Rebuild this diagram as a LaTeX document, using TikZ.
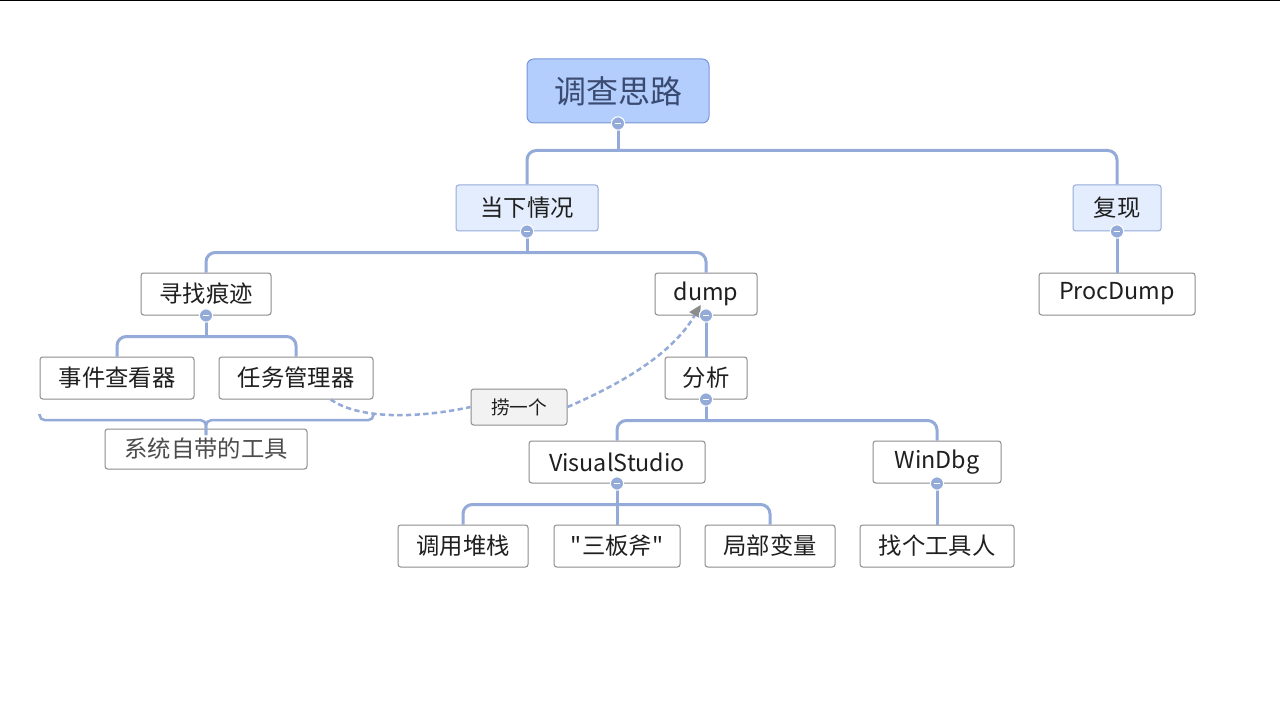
\documentclass[tikz,border=0pt]{standalone}
\usepackage{fontspec}
\setmainfont[Mapping=]{Noto Sans CJK SC}
\usetikzlibrary{arrows.meta, positioning, calc}
\definecolor{linkblue}{HTML}{94AAD8}
\definecolor{rootfill}{HTML}{B3CEFD}
\definecolor{rootdraw}{HTML}{7895D8}
\definecolor{roottext}{HTML}{3A4A70}
\definecolor{subfill}{HTML}{E3EDFD}
\tikzset{
  topic/.style={draw=black!45, fill=white, rounded corners=2pt, line width=0.75pt,
    minimum height=31.5pt, inner sep=0pt, font=\fontsize{17.5}{19}\selectfont, text=black!88},
  maintopic/.style={topic, draw=linkblue, fill=subfill, minimum height=34.5pt},
  roottopic/.style={topic, draw=rootdraw, fill=rootfill, minimum height=48pt,
    rounded corners=5pt, font=\fontsize{24}{26}\selectfont, text=roottext},
  branch/.style={draw=linkblue, line width=2.25pt, rounded corners=7pt},
  link/.style={draw=linkblue, line width=1.9pt, dash pattern=on 4pt off 2.5pt},
  fold/.style={circle, fill=linkblue, draw=white, line width=0.8pt, minimum size=10pt, inner sep=0pt,
    path picture={\draw[white, line width=1.2pt] ([xshift=-2.5pt]path picture bounding box.center) -- ([xshift=2.5pt]path picture bounding box.center);}},
}
\begin{document}
\begin{tikzpicture}[x=0.75pt, y=-0.75pt]
  \useasboundingbox (0,0) rectangle (1280,720);
  \draw[black, line width=1pt] (0,0.5) -- (1280,0.5);
  % topics
  \node[roottopic, minimum width=136.5pt] (root) at (618,91) {调查思路};
  \node[maintopic, minimum width=106.5pt] (now) at (527,208) {当下情况};
  \node[maintopic, minimum width=66pt] (repro) at (1117,208) {复现};
  \node[topic, minimum width=97.5pt] (trace) at (206,294) {寻找痕迹};
  \node[topic, minimum width=76.5pt] (dump) at (706,294) {dump};
  \node[topic, minimum width=117pt] (procdump) at (1117,294) {ProcDump};
  \node[topic, minimum width=115.5pt] (event) at (117,378) {事件查看器};
  \node[topic, minimum width=115.5pt] (taskmgr) at (296,378) {任务管理器};
  \node[topic, minimum width=61.5pt] (analyze) at (706,378) {分析};
  \node[topic, minimum width=151.5pt, minimum height=30pt, text=black!70] (systools) at (206,449) {系统自带的工具};
  \node[topic, fill=black!5, minimum width=72pt, minimum height=27pt, font=\fontsize{14}{16}\selectfont] (grab) at (519,407) {捞一个};
  \node[topic, minimum width=132pt] (vs) at (617,462) {VisualStudio};
  \node[topic, minimum width=96pt] (windbg) at (937,462) {WinDbg};
  \node[topic, minimum width=97.5pt] (stack) at (463,546) {调用堆栈};
  \node[topic, minimum width=94.5pt] (axes) at (617,546) {\char34三板斧\char34};
  \node[topic, minimum width=97.5pt] (locals) at (770,546) {局部变量};
  \node[topic, minimum width=115.5pt] (toolman) at (937,546) {找个工具人};
  % branches
  \draw[branch] (root.south) -- ++(0,27);
  \draw[branch] (now.north) |- ($(root.south)+(0,27)$) -| (repro.north);
  \draw[branch] (now.south) -- ++(0,21);
  \draw[branch] (trace.north) |- ($(now.south)+(0,21)$) -| (dump.north);
  \draw[branch] (repro.south) -- (procdump.north);
  \draw[branch] (trace.south) -- ++(0,21);
  \draw[branch] (event.north) |- ($(trace.south)+(0,21)$) -| (taskmgr.north);
  \draw[branch] (dump.south) -- (analyze.north);
  \draw[branch] (analyze.south) -- ++(0,21);
  \draw[branch] (vs.north) |- ($(analyze.south)+(0,21)$) -| (windbg.north);
  \draw[branch] (vs.south) -- (axes.north);
  \draw[branch] (stack.north) |- ($(vs.south)+(0,21)$) -| (locals.north);
  \draw[branch] (windbg.south) -- (toolman.north);
  % brace
  \coordinate (bl) at ([yshift=-11]event.south west);
  \coordinate (br) at ([yshift=-11]taskmgr.south east);
  \draw[branch, line width=1.9pt, rounded corners=4pt] (bl) -- ++(0,6) -| ([yshift=-5]systools.north);
  \draw[branch, line width=1.9pt, rounded corners=4pt] (br) -- ++(0,6) -| ([yshift=-5]systools.north);
  % relation
  \draw[link] ([xshift=26]taskmgr.south) .. controls (360,420) and (420,418) .. (grab.west);
  \draw[link, -{Triangle[length=9pt, width=9pt, color=black!45]}]
    (grab.east) .. controls (630,380) and (675,350) .. ([xshift=-4, yshift=8]dump.south);
  % fold markers
  \foreach \n in {root, now, repro, trace, dump, analyze, vs, windbg}
    \node[fold] at (\n.south) {};
\end{tikzpicture}
\end{document}
